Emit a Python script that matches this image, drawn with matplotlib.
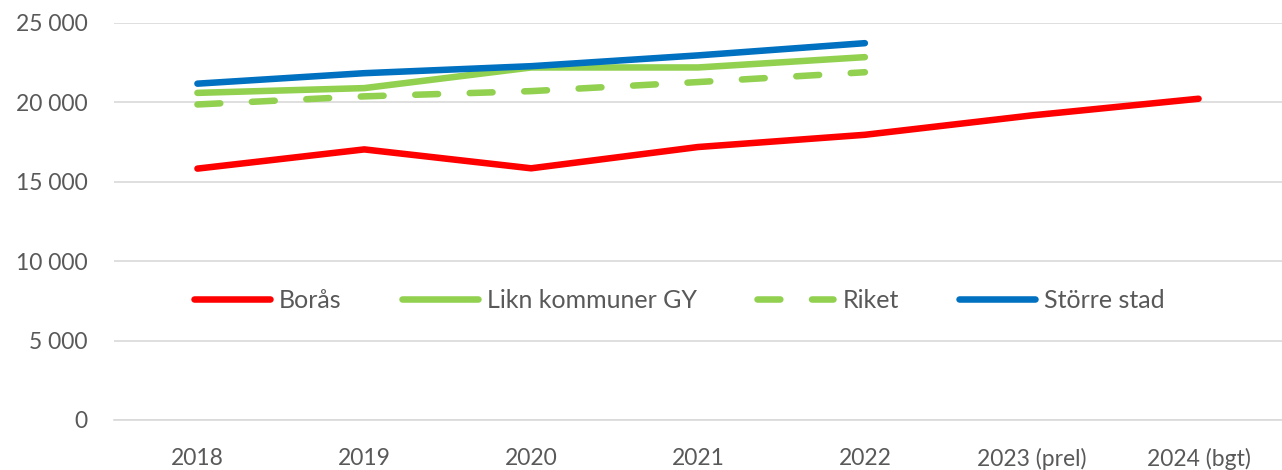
import matplotlib.pyplot as plt

years = ["2018", "2019", "2020", "2021", "2022", "2023 (prel)", "2024 (bgt)"]
boras = [15830, 17040, 15850, 17190, 17960, 19180, 20230]
likn = [20600, 20900, 22200, 22200, 22850]
riket = [19870, 20380, 20710, 21280, 21900]
storre = [21180, 21840, 22280, 22960, 23730]

plt.rcParams['font.family'] = ['Lato', 'DejaVu Sans']

fig = plt.figure(figsize=(12.82, 4.70), dpi=100)
ax = fig.add_axes([114 / 1282, 1 - 420 / 470, 1168 / 1282, 397 / 470])

x = list(range(len(years)))
lw = 4.7
ax.plot(x, boras, color="#FF0000", lw=lw, solid_capstyle="round", label="Borås")
ax.plot(x[:len(likn)], likn, color="#92D050", lw=lw, solid_capstyle="round", label="Likn kommuner GY")
ax.plot(x[:len(riket)], riket, color="#92D050", lw=lw, dashes=(3.5, 4.85),
        dash_capstyle="round", label="Riket")
ax.plot(x[:len(storre)], storre, color="#0070C0", lw=lw, solid_capstyle="round", label="Större stad")

ax.set_xlim(-0.5, len(years) - 0.5)
ax.set_ylim(0, 25000)
ax.set_yticks(range(0, 25001, 5000))
ax.set_yticklabels([f"{v:,}".replace(",", " ") for v in range(0, 25001, 5000)])
ax.set_xticks(x)
ax.set_xticklabels(years)
ax.grid(axis="y", color="#D9D9D9", lw=1.2)
ax.set_axisbelow(True)
for s in ["top", "right", "left"]:
    ax.spines[s].set_visible(False)
ax.spines["bottom"].set_color("#D9D9D9")
ax.spines["bottom"].set_linewidth(1.2)
ax.tick_params(axis="both", length=0, labelsize=16.5, labelcolor="#595959")
ax.tick_params(axis="y", pad=19)
ax.tick_params(axis="x", pad=20)

leg = ax.legend(ncol=4, loc="center", bbox_to_anchor=(0.484, 0.302), frameon=False,
                fontsize=18, handlelength=3.05, handletextpad=0.36, columnspacing=2.4,
                labelcolor="#595959")

fig.savefig("out.png", dpi=100)
